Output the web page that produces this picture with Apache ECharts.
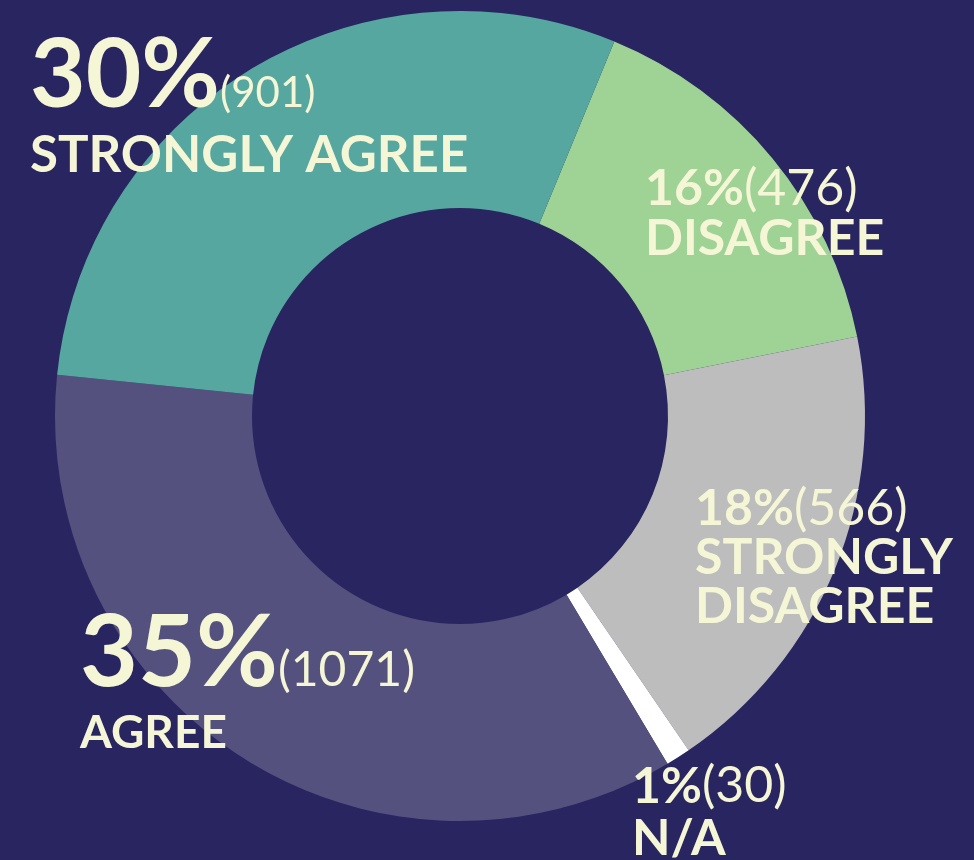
<!DOCTYPE html>
<html>
<head>
<meta charset="utf-8">
<script src="https://cdn.jsdelivr.net/npm/echarts@6/dist/echarts.min.js"></script>
<style>
html, body { margin: 0; padding: 0; background: #292560; }
#pie { width: 974px; height: 860px; }
</style>
</head>
<body>
<div id="pie"></div>
<script>
var categories = ['DISAGREE', 'STRONGLY DISAGREE', 'N/A', 'AGREE', 'STRONGLY AGREE'];
var counts = [476, 566, 30, 1071, 901];
var percents = [16, 18, 1, 35, 30];
var colors = ['#9fd395', '#bdbdbd', '#ffffff', '#54517f', '#56a7a0'];

// label block top-left corners and font sizes (padc pushes the count down onto the big % baseline)
var labelPos = [[645, 164], [695, 484], [632, 761], [80, 600], [30, 24]];
var labelSize = [
  { pct: 50, cnt: 50, name: 50, lh1: 50, lh2: 50, padc: 0 },
  { pct: 50, cnt: 50, name: 50, lh1: 49, lh2: 49, padc: 0 },
  { pct: 50, cnt: 50, name: 50, lh1: 52, lh2: 52, padc: 0 },
  { pct: 100, cnt: 48, name: 46, lh1: 108, lh2: 50, padc: 47 },
  { pct: 96, cnt: 42, name: 51, lh1: 104, lh2: 55, padc: 48 }
];
var textColor = '#f5f6d6';

var chart = echarts.init(document.getElementById('pie'));

var seriesData = categories.map(function (name, i) {
  var s = labelSize[i];
  return {
    name: name,
    value: counts[i],
    itemStyle: { color: colors[i] },
    label: {
      rich: {
        p: { fontSize: s.pct, fontWeight: 'bold', lineHeight: s.lh1, color: textColor, fontFamily: 'Lato' },
        c: {
          fontSize: s.cnt, fontWeight: 'normal', color: textColor, fontFamily: 'Lato',
          verticalAlign: 'top',
          lineHeight: s.padc ? s.cnt : s.lh1,
          padding: [s.padc, 0, 0, 0]
        },
        n: { fontSize: s.name, fontWeight: 'bold', lineHeight: s.lh2, color: textColor, fontFamily: 'Lato' }
      }
    }
  };
});

chart.setOption({
  backgroundColor: '#292560',
  animation: false,
  series: [
    {
      type: 'pie',
      center: [460, 416],
      radius: [208, 405],
      startAngle: 67.6,
      clockwise: true,
      avoidLabelOverlap: false,
      silent: true,
      itemStyle: { borderWidth: 0 },
      labelLine: { show: false },
      label: {
        show: true,
        position: 'outside',
        formatter: function (p) {
          var i = p.dataIndex;
          var name = categories[i];
          if (i === 1) name = name.replace(' ', '\n');
          return '{p|' + percents[i] + '%}{c|(' + counts[i] + ')}\n{n|' + name + '}';
        }
      },
      labelLayout: function (params) {
        var pos = labelPos[params.dataIndex];
        return { x: pos[0], y: pos[1], align: 'left', verticalAlign: 'top', hideOverlap: false };
      },
      data: seriesData
    }
  ]
});
</script>
</body>
</html>
